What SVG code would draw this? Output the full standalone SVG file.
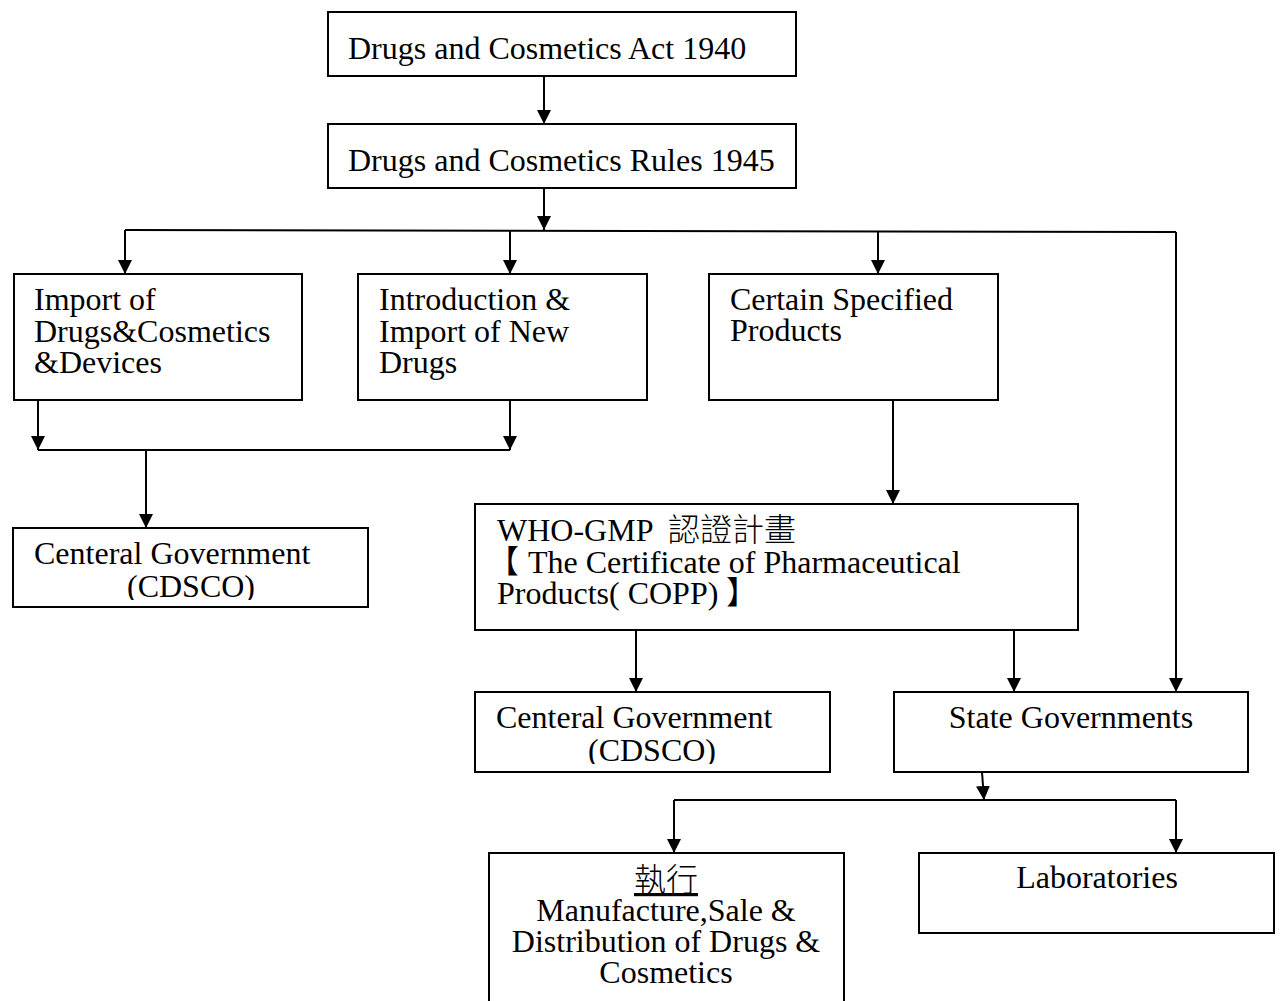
<svg xmlns="http://www.w3.org/2000/svg" width="1282" height="1001" viewBox="0 0 1282 1001">
<style>
.box{fill:#fff;stroke:#000;stroke-width:2}
.t{font-family:"Liberation Serif","Noto Sans CJK TC",serif;font-size:32px;fill:#000}
.k{font-family:"Noto Sans CJK TC",sans-serif;font-weight:300}
.c{text-anchor:middle}
.ln{fill:none;stroke:#000;stroke-width:2}
</style>
<defs>
<marker id="ah" markerWidth="14" markerHeight="18" refX="14" refY="9" orient="auto" markerUnits="userSpaceOnUse">
<path d="M0,2 L14,9 L0,16 Z" fill="#000"/>
</marker>
<clipPath id="clip1"><rect x="13" y="528" width="355" height="72"/></clipPath>
<clipPath id="clip2"><rect x="475" y="692" width="355" height="72"/></clipPath>
</defs>
<rect width="1282" height="1001" fill="#fff"/>
<g id="connectors">
<path class="ln" d="M544,76 V124" marker-end="url(#ah)"/>
<path class="ln" d="M544,188 V230" marker-end="url(#ah)"/>
<path class="ln" d="M125,230 L1176,232"/>
<path class="ln" d="M125,230 V274" marker-end="url(#ah)"/>
<path class="ln" d="M510,231 V274" marker-end="url(#ah)"/>
<path class="ln" d="M878,231 V274" marker-end="url(#ah)"/>
<path class="ln" d="M1176,232 V692" marker-end="url(#ah)"/>
<path class="ln" d="M893,400 V504" marker-end="url(#ah)"/>
<path class="ln" d="M38,400 V450" marker-end="url(#ah)"/>
<path class="ln" d="M510,400 V450" marker-end="url(#ah)"/>
<path class="ln" d="M38,450 H510"/>
<path class="ln" d="M146,450 V528" marker-end="url(#ah)"/>
<path class="ln" d="M636,630 V692" marker-end="url(#ah)"/>
<path class="ln" d="M1014,630 V692" marker-end="url(#ah)"/>
<path class="ln" d="M982,772 L984,800" marker-end="url(#ah)"/>
<path class="ln" d="M674,800 H1176"/>
<path class="ln" d="M674,800 V853" marker-end="url(#ah)"/>
<path class="ln" d="M1176,800 V853" marker-end="url(#ah)"/>
</g>
<g id="act">
<rect class="box" x="328" y="12" width="468" height="64"/>
<text class="t" x="348" y="59">Drugs and Cosmetics Act 1940</text>
</g>
<g id="rules">
<rect class="box" x="328" y="124" width="468" height="64"/>
<text class="t" x="348" y="171">Drugs and Cosmetics Rules 1945</text>
</g>
<g id="import">
<rect class="box" x="14" y="274" width="288" height="126"/>
<text class="t" x="34" y="310">Import of</text>
<text class="t" x="34" y="342">Drugs&amp;Cosmetics</text>
<text class="t" x="34" y="373">&amp;Devices</text>
</g>
<g id="newdrugs">
<rect class="box" x="358" y="274" width="289" height="126"/>
<text class="t" x="379" y="310">Introduction &amp;</text>
<text class="t" x="379" y="342">Import of New</text>
<text class="t" x="379" y="373">Drugs</text>
</g>
<g id="specified">
<rect class="box" x="709" y="274" width="289" height="126"/>
<text class="t" x="730" y="310">Certain Specified</text>
<text class="t" x="730" y="341">Products</text>
</g>
<g id="central1">
<rect class="box" x="13" y="528" width="355" height="79"/>
<text class="t" x="34" y="564">Centeral Government</text>
<text class="t" x="127" y="597" clip-path="url(#clip1)">(CDSCO)</text>
</g>
<g id="whogmp">
<rect class="box" x="475" y="504" width="603" height="126"/>
<text class="t" x="497" y="541">WHO-GMP<tspan class="k" x="668">認證計畫</tspan></text>
<text class="t" y="573"><tspan class="k" x="487">【</tspan><tspan x="528">The Certificate of Pharmaceutical</tspan></text>
<text class="t" y="604"><tspan x="497">Products( COPP)</tspan><tspan class="k" x="726">】</tspan></text>
</g>
<g id="central2">
<rect class="box" x="475" y="692" width="355" height="80"/>
<text class="t" x="496" y="728">Centeral Government</text>
<text class="t" x="588" y="761" clip-path="url(#clip2)">(CDSCO)</text>
</g>
<g id="state">
<rect class="box" x="894" y="692" width="354" height="80"/>
<text class="t c" x="1071" y="728">State Governments</text>
</g>
<g id="execute">
<path class="box" d="M489,1003 V853 H844 V1003"/>
<text class="t c k" x="666" y="891" text-decoration="underline">執行</text>
<text class="t c" x="666" y="921">Manufacture,Sale &amp;</text>
<text class="t c" x="666" y="952">Distribution of Drugs &amp;</text>
<text class="t c" x="666" y="983">Cosmetics</text>
</g>
<g id="labs">
<rect class="box" x="919" y="853" width="355" height="80"/>
<text class="t c" x="1097" y="888">Laboratories</text>
</g>
</svg>
